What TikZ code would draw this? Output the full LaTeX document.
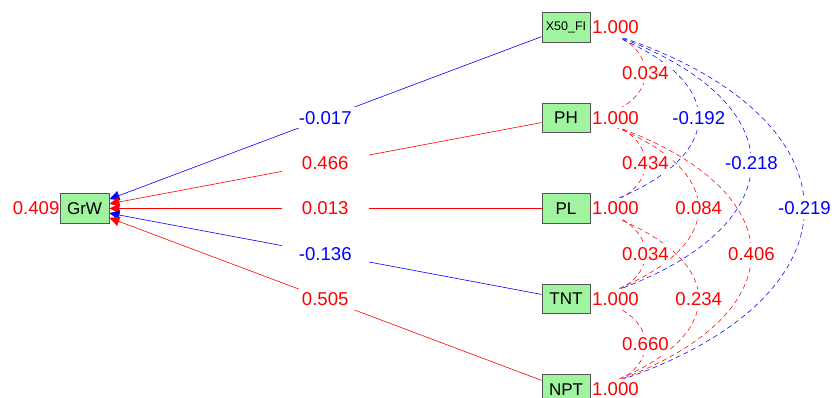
\documentclass[tikz,border=0pt]{standalone}
\usepackage{fontspec}
\setmainfont{Liberation Sans}
\usetikzlibrary{arrows.meta,calc}
\definecolor{boxgreen}{HTML}{A0F4A0}
\definecolor{boxborder}{HTML}{555555}
\definecolor{pr}{HTML}{FF0000}
\definecolor{pb}{HTML}{0000FF}
\begin{document}
\begin{tikzpicture}[x=1pt,y=-1pt,
  var/.style={draw=boxborder, line width=0.9pt, fill=boxgreen, minimum width=48pt, minimum height=29.5pt, inner sep=0pt, font=\fontsize{17}{17}\selectfont},
  elab/.style={fill=white, inner sep=0pt, minimum width=87pt, minimum height=21pt, font=\fontsize{18.6}{18.6}\selectfont},
  clab/.style={fill=white, inner xsep=1pt, inner ysep=0pt, minimum height=21pt, font=\fontsize{18.6}{18.6}\selectfont},
  reg/.style={line width=0.6pt, -{Triangle[length=10pt,width=9.5pt]}},
  corr/.style={line width=0.55pt, dash pattern=on 5pt off 3.5pt},
]
\useasboundingbox (0,0) rectangle (837,398);
% nodes
\node[var, minimum width=49pt, minimum height=30pt] (grw) at (84.5,208.5) {GrW};
\node[var] (x50) at (566,27.5) {\fontsize{12.5}{12.5}\selectfont X50\_FI};
\node[var] (ph) at (566,118) {PH};
\node[var] (pl) at (566,208.5) {PL};
\node[var] (tnt) at (566,299) {TNT};
\node[var] (npt) at (566,389.5) {NPT};
% regressions
\draw[reg, pb] (x50) -- (grw);
\draw[reg, pr] (ph) -- (grw);
\draw[reg, pr] (pl) -- (grw);
\draw[reg, pb] (tnt) -- (grw);
\draw[reg, pr] (npt) -- (grw);
% correlations
\draw[corr, pr] (x50.east) .. controls +(73.3,12.9) and +(73.3,-12.9) .. (ph.east);
\draw[corr, pr] (ph.east) .. controls +(73.3,12.9) and +(73.3,-12.9) .. (pl.east);
\draw[corr, pr] (pl.east) .. controls +(73.3,12.9) and +(73.3,-12.9) .. (tnt.east);
\draw[corr, pr] (tnt.east) .. controls +(73.3,12.9) and +(73.3,-12.9) .. (npt.east);
\draw[corr, pb] (x50.east) .. controls +(144.4,46.9) and +(144.4,-46.9) .. (pl.east);
\draw[corr, pr] (ph.east) .. controls +(144.4,46.9) and +(144.4,-46.9) .. (tnt.east);
\draw[corr, pr] (pl.east) .. controls +(144.4,46.9) and +(144.4,-46.9) .. (npt.east);
\draw[corr, pb] (x50.east) .. controls +(214.7,65.6) and +(214.7,-65.6) .. (tnt.east);
\draw[corr, pr] (ph.east) .. controls +(214.7,65.6) and +(214.7,-65.6) .. (npt.east);
\draw[corr, pb] (x50.east) .. controls +(285.3,81.8) and +(285.3,-81.8) .. (npt.east);
% regression labels
\node[elab, text=pb] at ($(x50)!0.5!(grw)$) {-0.017};
\node[elab, text=pr] at ($(ph)!0.5!(grw)$) {0.466};
\node[elab, text=pr] at ($(pl)!0.5!(grw)$) {0.013};
\node[elab, text=pb] at ($(tnt)!0.5!(grw)$) {-0.136};
\node[elab, text=pr] at ($(npt)!0.5!(grw)$) {0.505};
% correlation labels
\node[clab, text=pr] at ($(x50.east)!0.5!(ph.east)+(55,0)$) {0.034};
\node[clab, text=pr] at ($(ph.east)!0.5!(pl.east)+(55,0)$) {0.434};
\node[clab, text=pr] at ($(pl.east)!0.5!(tnt.east)+(55,0)$) {0.034};
\node[clab, text=pr] at ($(tnt.east)!0.5!(npt.east)+(55,0)$) {0.660};
\node[clab, text=pb] at ($(x50.east)!0.5!(pl.east)+(108.3,0)$) {-0.192};
\node[clab, text=pr] at ($(ph.east)!0.5!(tnt.east)+(108.3,0)$) {0.084};
\node[clab, text=pr] at ($(pl.east)!0.5!(npt.east)+(108.3,0)$) {0.234};
\node[clab, text=pb] at ($(x50.east)!0.5!(tnt.east)+(161,0)$) {-0.218};
\node[clab, text=pr] at ($(ph.east)!0.5!(npt.east)+(161,0)$) {0.406};
\node[clab, text=pb] at ($(x50.east)!0.5!(npt.east)+(214,0)$) {-0.219};
% residual labels
\node[clab, text=pr, anchor=west] at ([xshift=0.5pt]x50.east) {1.000};
\node[clab, text=pr, anchor=west] at ([xshift=0.5pt]ph.east) {1.000};
\node[clab, text=pr, anchor=west] at ([xshift=0.5pt]pl.east) {1.000};
\node[clab, text=pr, anchor=west] at ([xshift=0.5pt]tnt.east) {1.000};
\node[clab, text=pr, anchor=west] at ([xshift=0.5pt]npt.east) {1.000};
\node[clab, text=pr, anchor=east, inner xsep=0pt] at (grw.west) {0.409};
\end{tikzpicture}
\end{document}
